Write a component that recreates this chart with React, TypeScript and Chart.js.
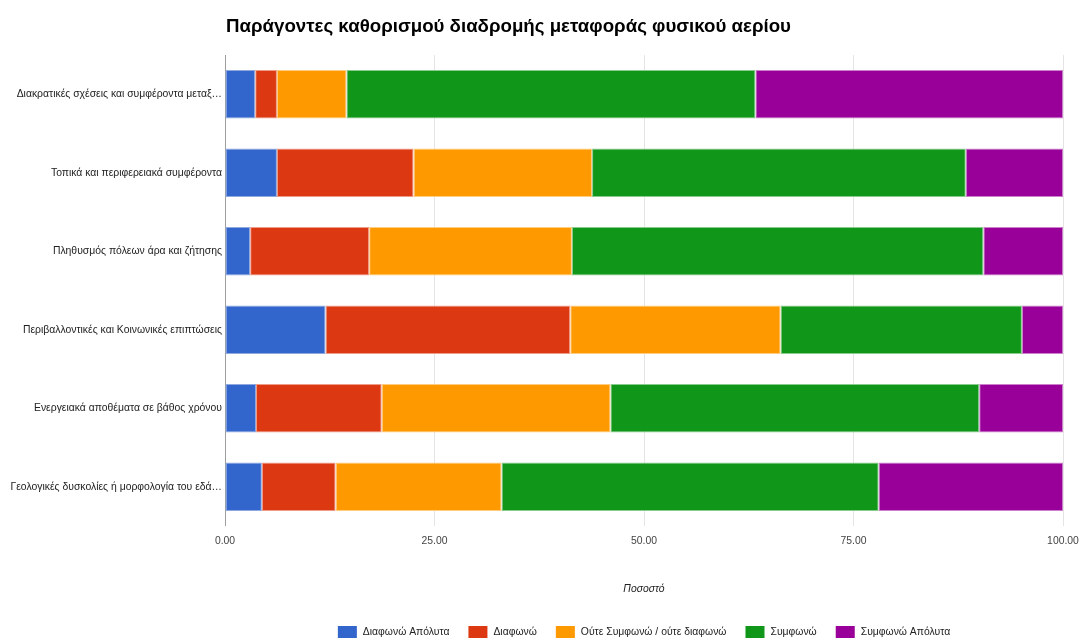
import React, { useEffect, useRef } from "react";
import { Chart, registerables } from "chart.js";

Chart.register(...registerables);

const chartTitle = "Παράγοντες καθορισμού διαδρομής μεταφοράς φυσικού αερίου";
const axisTitle = "Ποσοστό";

const categories = [
  "Διακρατικές σχέσεις και συμφέροντα μεταξ…",
  "Τοπικά και περιφερειακά συμφέροντα",
  "Πληθυσμός πόλεων άρα και ζήτησης",
  "Περιβαλλοντικές και Κοινωνικές επιπτώσεις",
  "Ενεργειακά αποθέματα σε βάθος χρόνου",
  "Γεολογικές δυσκολίες ή μορφολογία του εδά…",
];

const seriesNames = [
  "Διαφωνώ Απόλυτα",
  "Διαφωνώ",
  "Ούτε Συμφωνώ / ούτε διαφωνώ",
  "Συμφωνώ",
  "Συμφωνώ Απόλυτα",
];

const disagreeAbs = [3.6, 6.2, 3.0, 12.0, 3.7, 4.4];
const disagree = [2.6, 16.3, 14.2, 29.2, 15.0, 8.8];
const neutral = [8.3, 21.3, 24.2, 25.1, 27.3, 19.8];
const agree = [48.8, 44.6, 49.1, 28.8, 44.0, 45.0];
const agreeAbs = [36.7, 11.6, 9.5, 4.9, 10.0, 22.0];

const xTicks = [0, 25, 50, 75, 100];

const colors = ["#3366cc", "#dc3912", "#ff9900", "#109618", "#990099"];
const borderColors = ["#8fa9e0", "#ee9c88", "#ffcc80", "#88cb8c", "#cc80cc"];

const FONT = "'Liberation Sans', Arial, sans-serif";

const titlePlugin = {
  id: "customTitle",
  afterDraw(chart: any) {
    const { ctx, chartArea } = chart;
    ctx.save();
    ctx.font = `bold 18.7px ${FONT}`;
    ctx.fillStyle = "#000000";
    ctx.textAlign = "left";
    ctx.textBaseline = "alphabetic";
    ctx.fillText(chartTitle, chartArea.left + 1, 32);
    ctx.restore();
  },
};

const legendPlugin = {
  id: "customLegend",
  afterDraw(chart: any) {
    const { ctx, chartArea } = chart;
    const ds = chart.data.datasets;
    ctx.save();
    ctx.font = `10.4px ${FONT}`;
    const boxW = 19;
    const boxH = 12;
    const gap = 6;
    const itemGap = 19;
    const widths = ds.map((d: any) => boxW + gap + ctx.measureText(d.label).width);
    const total = widths.reduce((a: number, b: number) => a + b, 0) + itemGap * (ds.length - 1);
    let x = (chartArea.left + chartArea.right) / 2 - total / 2;
    const cy = 632;
    ds.forEach((d: any, i: number) => {
      ctx.fillStyle = d.backgroundColor;
      ctx.fillRect(x, cy - boxH / 2, boxW, boxH);
      ctx.fillStyle = "#222222";
      ctx.textAlign = "left";
      ctx.textBaseline = "middle";
      ctx.fillText(d.label, x + boxW + gap, cy);
      x += widths[i] + itemGap;
    });
    ctx.restore();
  },
};

export default function App() {
  const ref = useRef<HTMLCanvasElement>(null);

  useEffect(() => {
    if (!ref.current) return;
    const values = [disagreeAbs, disagree, neutral, agree, agreeAbs];
    const chart = new Chart(ref.current, {
      type: "bar",
      data: {
        labels: categories,
        datasets: values.map((v, i) => ({
          label: seriesNames[i],
          data: v,
          backgroundColor: colors[i],
          borderColor: borderColors[i],
          borderWidth: 1,
          borderSkipped: false,
          categoryPercentage: 1,
          barPercentage: 0.62,
        })),
      },
      options: {
        indexAxis: "y",
        responsive: false,
        animation: false,
        layout: { padding: { top: 55, right: 19, bottom: 44, left: 0 } },
        plugins: {
          legend: { display: false },
          title: { display: false },
          tooltip: { enabled: false },
        },
        scales: {
          x: {
            stacked: true,
            min: 0,
            max: 100,
            afterFit(scale: any) {
              scale.height = 69;
              scale.paddingLeft = 0;
              scale.paddingRight = 0;
            },
            afterBuildTicks(scale: any) {
              scale.ticks = xTicks.map((v) => ({ value: v }));
            },
            border: { display: false },
            grid: {
              drawTicks: false,
              color: (c: any) => (c.tick && c.tick.value === 0 ? "#9e9e9e" : "#e4e4e4"),
              lineWidth: 1,
            },
            ticks: {
              padding: 9,
              color: "#444444",
              font: { family: FONT, size: 10.4 },
              callback: (v: any) => Number(v).toFixed(2),
              maxRotation: 0,
            },
            title: {
              display: true,
              text: axisTitle,
              color: "#222222",
              font: { family: FONT, size: 10.4, style: "italic" },
              padding: { top: 0, bottom: 0 },
            },
          },
          y: {
            stacked: true,
            afterFit(scale: any) {
              scale.width = 225;
              scale.paddingTop = 0;
              scale.paddingBottom = 0;
            },
            border: { display: false },
            grid: { display: false, drawTicks: false },
            ticks: {
              padding: 3,
              color: "#222222",
              font: { family: FONT, size: 10.4 },
              autoSkip: false,
            },
          },
        },
      },
      plugins: [titlePlugin, legendPlugin],
    } as any);
    return () => chart.destroy();
  }, []);

  return (
    <div style={{ position: "absolute", left: 0, top: 0, width: 1082, height: 639, background: "#ffffff" }}>
      <canvas ref={ref} width={1082} height={639} style={{ display: "block" }} />
    </div>
  );
}
